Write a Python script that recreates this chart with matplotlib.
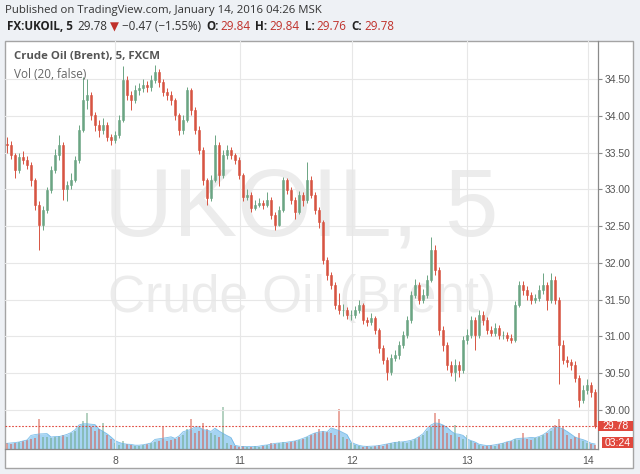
import matplotlib
matplotlib.use("Agg")
import matplotlib.pyplot as plt
import numpy as np
import pandas as pd
from matplotlib.patches import Rectangle

# candle closes (one candle per ~45 min)
closes = [33.60, 33.47, 33.27, 33.44, 33.40, 33.33, 33.13, 32.79, 32.52, 32.72,
          32.99, 33.27, 33.47, 33.60, 33.00, 33.06, 33.13, 33.40, 33.81, 34.22,
          34.29, 34.01, 33.88, 33.81, 33.88, 33.71, 33.67, 33.74, 33.95, 34.49,
          34.29, 34.22, 34.35, 34.38, 34.42, 34.39, 34.49, 34.60, 34.46, 34.33,
          34.29, 34.22, 34.01, 33.81, 33.95, 34.35, 34.08, 33.81, 33.54, 33.13,
          32.88, 33.13, 33.60, 33.20, 33.47, 33.54, 33.47, 33.40, 33.20, 32.90,
          32.93, 32.75, 32.79, 32.82, 32.79, 32.86, 32.65, 32.52, 32.72, 33.13,
          32.99, 32.86, 32.69, 32.93, 32.86, 33.13, 32.93, 32.72, 32.56, 32.04,
          31.84, 31.70, 31.43, 31.36, 31.36, 31.29, 31.29, 31.36, 31.43, 31.22,
          31.20, 31.25, 31.09, 30.84, 30.68, 30.52, 30.71, 30.75, 30.88, 31.02,
          31.22, 31.56, 31.70, 31.50, 31.56, 31.77, 32.18, 31.90, 31.09, 30.88,
          30.61, 30.52, 30.61, 30.54, 30.95, 31.02, 31.22, 31.02, 31.29, 31.22,
          31.09, 31.05, 31.12, 31.02, 31.02, 30.98, 30.95, 31.43, 31.70, 31.63,
          31.56, 31.50, 31.52, 31.63, 31.70, 31.50, 31.77, 31.50, 30.88, 30.68,
          30.65, 30.61, 30.44, 30.14, 30.27, 30.34, 30.24, 29.78]
first_open = 33.62

highs = [33.72, 33.66, 33.50, 33.50, 33.52, 33.46, 33.37, 33.16, 32.84, 32.78,
         33.04, 33.32, 33.55, 33.74, 33.64, 33.12, 33.22, 33.45, 33.88, 34.53,
         34.50, 34.33, 34.06, 33.95, 33.97, 33.92, 33.76, 33.80, 34.02, 34.68,
         34.55, 34.34, 34.42, 34.45, 34.50, 34.48, 34.56, 34.69, 34.64, 34.50,
         34.38, 34.34, 34.25, 34.04, 34.02, 34.40, 34.38, 34.12, 33.86, 33.58,
         33.16, 33.20, 33.74, 33.64, 33.54, 33.60, 33.58, 33.50, 33.44, 33.23,
         33.00, 32.96, 32.86, 32.88, 32.86, 32.97, 32.90, 32.70, 32.78, 33.17,
         33.15, 33.03, 32.90, 32.98, 32.97, 33.37, 33.18, 32.97, 32.76, 32.58,
         32.08, 31.88, 31.74, 31.59, 31.44, 31.40, 31.36, 31.42, 31.50, 31.46,
         31.27, 31.32, 31.28, 31.12, 30.88, 30.72, 30.76, 30.82, 30.94, 31.08,
         31.28, 31.62, 31.78, 31.74, 31.64, 31.84, 32.35, 32.24, 31.94, 31.14,
         30.92, 30.66, 30.70, 30.66, 31.00, 31.10, 31.28, 31.26, 31.36, 31.34,
         31.26, 31.14, 31.18, 31.16, 31.08, 31.06, 31.03, 31.48, 31.76, 31.75,
         31.68, 31.60, 31.58, 31.70, 31.86, 31.74, 31.86, 31.82, 31.54, 30.95,
         30.74, 30.70, 30.66, 30.48, 30.34, 30.42, 30.38, 30.28]

lows = [33.50, 33.42, 33.15, 33.22, 33.35, 33.28, 33.05, 32.72, 32.18, 32.45,
        32.68, 32.95, 33.22, 33.40, 32.86, 32.84, 33.00, 33.10, 33.36, 33.78,
        34.10, 33.95, 33.80, 33.72, 33.76, 33.66, 33.60, 33.63, 33.70, 33.92,
        34.22, 34.08, 34.18, 34.28, 34.33, 34.32, 34.34, 34.45, 34.40, 34.27,
        34.22, 34.15, 33.95, 33.74, 33.76, 33.92, 34.02, 33.75, 33.48, 33.06,
        32.79, 32.84, 33.10, 33.05, 33.16, 33.42, 33.42, 33.35, 33.14, 32.84,
        32.86, 32.70, 32.72, 32.76, 32.74, 32.76, 32.60, 32.45, 32.50, 32.70,
        32.94, 32.80, 32.60, 32.66, 32.78, 32.82, 32.88, 32.66, 32.48, 31.98,
        31.77, 31.64, 31.38, 31.30, 31.28, 31.24, 31.22, 31.25, 31.32, 31.17,
        31.14, 31.16, 31.04, 30.78, 30.62, 30.41, 30.48, 30.66, 30.70, 30.84,
        30.98, 31.18, 31.52, 31.44, 31.46, 31.52, 31.74, 31.84, 31.02, 30.80,
        30.55, 30.46, 30.40, 30.45, 30.50, 30.90, 30.98, 30.82, 30.98, 31.16,
        31.04, 31.00, 31.01, 30.97, 30.96, 30.94, 30.91, 30.92, 31.40, 31.56,
        31.50, 31.44, 31.45, 31.48, 31.58, 31.36, 31.46, 31.44, 30.35, 30.62,
        30.58, 30.55, 30.38, 30.04, 30.10, 30.22, 30.18, 29.76]

volumes = [6, 5, 6, 7, 8, 9, 10, 11, 30, 12,
           12, 11, 12, 13, 14, 12, 16, 18, 22, 28,
           36, 22, 18, 20, 26, 14, 10, 6, 4, 8,
           5, 4, 3, 3, 4, 5, 6, 7, 8, 22,
           8, 9, 10, 12, 14, 20, 30, 16, 18, 26,
           20, 16, 14, 12, 42, 6, 4, 3, 2, 3,
           2, 2, 3, 2, 3, 4, 6, 5, 6, 7,
           6, 7, 8, 9, 10, 12, 14, 16, 20, 18,
           17, 16, 14, 40, 12, 10, 6, 4, 3, 2,
           3, 2, 3, 4, 3, 5, 6, 7, 8, 7,
           6, 8, 10, 12, 14, 18, 22, 36, 30, 24,
           16, 14, 24, 12, 10, 14, 8, 6, 4, 3,
           3, 4, 3, 5, 6, 7, 8, 10, 9, 16,
           10, 9, 11, 12, 14, 16, 18, 24, 30, 22,
           14, 10, 12, 16, 8, 6, 5, 4]

day_pos = [27, 58.25, 86.25, 115, 145.25]
day_labels = ["8", "11", "12", "13", "14"]
price_ticks = [30.0, 30.5, 31.0, 31.5, 32.0, 32.5, 33.0, 33.5, 34.0, 34.5]
last_price = 29.78

UP = "#6ba583"
DOWN = "#d75442"
RED_TXT = "#c0302a"
FONT = ["Open Sans", "DejaVu Sans"]

W, H = 640, 474
fig = plt.figure(figsize=(W / 100, H / 100), dpi=100, facecolor="#eef1f5")

# white chart frame
fig.patches.append(Rectangle((5 / W, 1 - 468 / H), 628 / W, 427 / H,
                             transform=fig.transFigure, facecolor="white",
                             edgecolor="#a4a4a4", lw=1, zorder=0))

rect = [5 / W, 1 - 449 / H, 593 / W, 408 / H]
vax = fig.add_axes(rect)
ax = fig.add_axes(rect, sharex=vax)
vax.set_zorder(1)
ax.set_zorder(2)
vax.set_axis_off()
ax.patch.set_visible(False)

x = np.arange(len(closes))
opens = np.array([first_open] + closes[:-1])
c = np.array(closes)
colors = np.where(c >= opens, UP, DOWN)

# volume
vol = np.array(volumes, dtype=float)
vol_ma = pd.Series(vol).rolling(5, center=True, min_periods=1).mean()
vax.fill_between(x, 0, vol_ma, color="#80c2ee", alpha=0.7, lw=0)
vax.plot(x, vol_ma, color="#5eaee3", lw=0.6, alpha=0.8)
vax.bar(x, vol, width=0.35, color=colors, alpha=0.5, lw=0)
vax.set_ylim(0, 408)

# watermark
ax.text(0.50, 0.585, "UKOIL, 5", transform=ax.transAxes, ha="center", va="center",
        fontsize=69, color="#ececec", family="Liberation Sans", zorder=0)
ax.text(0.50, 0.37, "Crude Oil (Brent)", transform=ax.transAxes, ha="center",
        va="center", fontsize=37, color="#ececec", family="Liberation Sans", zorder=0)

# candles
ax.vlines(x, lows, highs, colors=colors, lw=0.7, zorder=3)
ax.bar(x, c - opens, bottom=opens, width=0.5, color=colors, edgecolor=colors,
       lw=0.4, zorder=4)

ax.axhline(last_price, color="#e0483d", lw=0.8, ls=(0, (1.5, 1.5)), zorder=5)

ax.set_xlim(-0.5, 147.75)
ax.set_ylim(29.469, 35.02)
ax.grid(True, color="#e7e7e7", lw=0.8)
ax.set_axisbelow(True)

for side in ["left", "top"]:
    ax.spines[side].set_visible(False)
for side in ["right", "bottom"]:
    ax.spines[side].set_color("#8a8a8a")
    ax.spines[side].set_linewidth(0.9)

ax.yaxis.tick_right()
ax.set_yticks(price_ticks)
ax.set_yticklabels([f"{p:.2f}" for p in price_ticks])
ax.tick_params(axis="y", length=3, color="#8a8a8a", labelsize=7.5,
               labelcolor="#555555", pad=2)
ax.set_xticks(day_pos)
ax.set_xticklabels(day_labels)
ax.tick_params(axis="x", length=0, labelsize=7.5, labelcolor="#555555", pad=5)
for lab in ax.get_xticklabels() + ax.get_yticklabels():
    lab.set_family("Liberation Sans")

# last price / countdown tags on the price scale
ytr = ax.get_yaxis_transform()
ax.add_patch(Rectangle((1.0, last_price - 5 / 73.5), 35 / 593, 10 / 73.5,
                       transform=ytr, facecolor="#e0483d", lw=0, clip_on=False, zorder=6))
ax.text(1.0 + 17.5 / 593, last_price, f"{last_price:.2f}", transform=ytr, ha="center",
        va="center", color="white", fontsize=7.5, family="Liberation Sans",
        clip_on=False, zorder=7)
ax.add_patch(Rectangle((1.0 + 4 / 593, last_price - 22 / 73.5), 31 / 593, 11 / 73.5,
                       transform=ytr, facecolor="#e0483d", lw=0, clip_on=False, zorder=6))
ax.text(1.0 + 19.5 / 593, last_price - 16.5 / 73.5, "03:24", transform=ytr, ha="center",
        va="center", color="white", fontsize=7.5, family="Liberation Sans",
        clip_on=False, zorder=7)

# header texts
renderer = fig.canvas.get_renderer()


def put_row(pieces, x0, y0, size):
    xx = x0
    for s, color, weight, gap in pieces:
        t = fig.text(xx / W, 1 - y0 / H, s, color=color, fontweight=weight,
                     fontsize=size, family=FONT, ha="left", va="center")
        xx += t.get_window_extent(renderer).width + gap


put_row([("Published on TradingView.com, January 14, 2016 04:26 MSK", "#333333", "normal", 0)],
        5, 11, 8.2)
put_row([("FX:UKOIL, 5", "#222222", "bold", 4),
         ("29.78", "#333333", "normal", 3),
         ("\u25bc", RED_TXT, "normal", 3),
         ("\u22120.47 (\u22121.55%)", "#333333", "normal", 5),
         ("O:", "#222222", "bold", 2), ("29.84", RED_TXT, "normal", 5),
         ("H:", "#222222", "bold", 2), ("29.84", RED_TXT, "normal", 5),
         ("L:", "#222222", "bold", 2), ("29.76", RED_TXT, "normal", 5),
         ("C:", "#222222", "bold", 2), ("29.78", RED_TXT, "normal", 0)],
        7, 27, 8.4)

fig.text(14 / W, 1 - 57 / H, "Crude Oil (Brent), 5, FXCM", fontsize=8.2,
         fontweight="bold", color="#555555", family=FONT, va="center")
fig.text(14 / W, 1 - 74 / H, "Vol (20, false)", fontsize=8.5, color="#666666",
         family=FONT, va="center")

fig.savefig("out.png", dpi=100, facecolor=fig.get_facecolor())
